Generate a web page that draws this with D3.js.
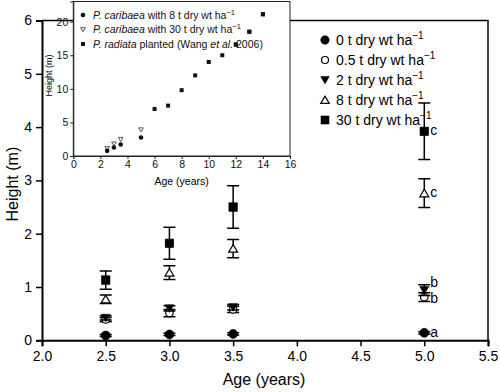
<!DOCTYPE html>
<html>
<head>
<meta charset="utf-8">
<script src="https://cdn.jsdelivr.net/npm/d3@7"></script>
<style>
  body { margin: 0; background: #fff; }
  svg { font-family: "Liberation Sans", Arial, Helvetica, sans-serif; }
</style>
</head>
<body>
<div id="chart"></div>
<script>
// Main chart data: height (m) by age, for each residue rate
var ages = [2.5, 3.0, 3.5, 5.0];
var h0  = [0.09, 0.11, 0.12, 0.14],  e0  = [0.02, 0.02, 0.02, 0.02];
var h05 = [0.39, 0.51, 0.58, 0.81],  e05 = [0.04, 0.07, 0.06, 0.08];
var h2  = [0.42, 0.60, 0.62, 0.94],  e2  = [0.04, 0.05, 0.05, 0.10];
var h8  = [0.77, 1.27, 1.72, 2.76],  e8  = [0.08, 0.13, 0.17, 0.27];
var h30 = [1.13, 1.82, 2.50, 3.92],  e30 = [0.17, 0.30, 0.40, 0.53];
var seriesNames = ["0", "0.5", "2", "8", "30"];
var letters = ["a", "b", "b", "c", "c"];   // significance letters at age 5
var xTicks = [2.0, 2.5, 3.0, 3.5, 4.0, 4.5, 5.0, 5.5];
var yTicks = [0, 1, 2, 3, 4, 5, 6];

// Inset data
var insetAges = [2.5, 3.0, 3.5, 5.0];
var inset8  = [0.77, 1.27, 1.72, 2.76];
var inset30 = [1.13, 1.82, 2.50, 3.92];
var radiataAges = [6, 7, 8, 9, 10, 11, 12, 13, 14];
var radiataH    = [7.0, 7.5, 9.8, 12.0, 14.0, 15.0, 16.6, 18.5, 21.1];
var insetXTicks = [0, 2, 4, 6, 8, 10, 12, 14, 16];
var insetYTicks = [0, 5, 10, 15, 20];

var W = 500, H = 392;
var svg = d3.select("#chart").append("svg")
    .attr("width", W)
    .attr("height", H);

// ---- main plot ----
var x = d3.scaleLinear().domain([2, 5.5]).range([42, 488]);
var y = d3.scaleLinear().domain([0, 6]).range([340.3, 20.5]);

// frame (top + right)
svg.append("path")
  .attr("d", "M" + x(2) + "," + y(6) + "H" + x(5.5) + "V" + y(0))
  .attr("fill", "none").attr("stroke", "#000").attr("stroke-width", 1.5);

var xAxis = svg.append("g")
  .attr("transform", "translate(0," + y(0) + ")")
  .call(d3.axisBottom(x).tickValues(xTicks).tickFormat(d3.format(".1f")).tickSize(6).tickPadding(5));
var yAxis = svg.append("g")
  .attr("transform", "translate(" + x(2) + ",0)")
  .call(d3.axisLeft(y).tickValues(yTicks).tickFormat(d3.format("d")).tickSize(6).tickPadding(4));

[xAxis, yAxis].forEach(function(a) {
  a.select(".domain").attr("stroke-width", 2);
  a.selectAll(".tick line").attr("stroke-width", 1.5);
  a.selectAll("text").attr("font-size", 14).attr("fill", "#000")
    .attr("font-family", "Liberation Sans, Arial, sans-serif");
});

svg.append("text")
  .attr("text-anchor", "middle")
  .attr("transform", "translate(" + (x(2) - 24) + "," + y(2.93) + ")rotate(-90)")
  .attr("font-size", 16)
  .text("Height (m)");

svg.append("text")
  .attr("text-anchor", "middle")
  .attr("x", 264).attr("y", 385)
  .attr("font-size", 16)
  .text("Age (years)");

// symbol helpers
function marker(g, type, size, cx, cy) {
  var m;
  if (type == "circle" || type == "ocircle") {
    m = g.append("circle").attr("cx", cx).attr("cy", cy).attr("r", size / 2);
  } else if (type == "square") {
    m = g.append("rect").attr("x", cx - size / 2).attr("y", cy - size / 2)
      .attr("width", size).attr("height", size);
  } else {
    var s = size / 2, d = (type == "tridown") ? 1 : -1;
    m = g.append("path").attr("d",
      "M" + (cx - s) + "," + (cy - d * s * 0.8) +
      "L" + (cx + s) + "," + (cy - d * s * 0.8) +
      "L" + cx + "," + (cy + d * s * 0.9) + "Z");
  }
  var open = (type == "ocircle" || type == "triup");
  m.attr("fill", open ? "#fff" : "#000").attr("stroke", "#000").attr("stroke-width", open ? 1.2 : 0.6);
  return m;
}

var series = [
  {vals: h0,  err: e0,  type: "circle",  size: 9, dy: 4},
  {vals: h05, err: e05, type: "ocircle", size: 7.5, dy: 6},
  {vals: h2,  err: e2,  type: "tridown", size: 9, dy: -3},
  {vals: h8,  err: e8,  type: "triup",   size: 9, dy: 4},
  {vals: h30, err: e30, type: "square",  size: 8.5, dy: 4}
];

var marks = svg.append("g");
series.forEach(function(s, si) {
  ages.forEach(function(a, i) {
    var cx = x(a), v = s.vals[i], e = s.err[i];
    var g = marks.append("g");
    g.append("path")
      .attr("d", "M" + cx + "," + y(v - e) + "V" + y(v + e) +
        "M" + (cx - 6) + "," + y(v + e) + "h12" +
        "M" + (cx - 6) + "," + y(v - e) + "h12")
      .attr("stroke", "#000").attr("stroke-width", 1.5).attr("fill", "none");
    marker(g, s.type, s.size, cx, y(v));
  });
  // letter at age 5
  svg.append("text")
    .attr("x", x(5) + 6)
    .attr("y", y(s.vals[3]) + s.dy)
    .attr("font-size", 14)
    .text(letters[si]);
});

// main legend
var leg = svg.append("g");
seriesNames.forEach(function(n, i) {
  var ly = 40 + i * 20;
  marker(leg, series[i].type, series[i].size - 0.5, 325, ly);
  var t = leg.append("text").attr("x", 336).attr("y", ly + 5).attr("font-size", 14);
  t.append("tspan").text(n + " t dry wt ha");
  t.append("tspan").attr("dy", -6).attr("font-size", 10).text("\u22121");
});

// ---- inset ----
var xi = d3.scaleLinear().domain([0, 16]).range([73.3, 290]);
var yi = d3.scaleLinear().domain([0, 23]).range([156, 1.5]);
var inset = svg.append("g");

inset.append("rect")
  .attr("x", xi(0)).attr("y", yi(23))
  .attr("width", xi(16) - xi(0)).attr("height", yi(0) - yi(23))
  .attr("fill", "#fff").attr("stroke", "#222").attr("stroke-width", 1);

var xiAxis = inset.append("g")
  .attr("transform", "translate(0," + yi(0) + ")")
  .call(d3.axisBottom(xi).tickValues(insetXTicks).tickSize(3).tickPadding(2));
var yiAxis = inset.append("g")
  .attr("transform", "translate(" + xi(0) + ",0)")
  .call(d3.axisLeft(yi).tickValues(insetYTicks).tickSize(3).tickPadding(2));
[xiAxis, yiAxis].forEach(function(a) {
  a.selectAll("text").attr("font-size", 10.5).attr("fill", "#111")
    .attr("font-family", "Liberation Sans, Arial, sans-serif");
  a.select(".domain").attr("stroke", "#222");
  a.selectAll(".tick line").attr("stroke", "#222");
});

inset.append("text")
  .attr("text-anchor", "middle")
  .attr("transform", "translate(" + (xi(0) - 21) + "," + yi(12) + ")rotate(-90)")
  .attr("font-size", 9)
  .text("Height (m)");
inset.append("text")
  .attr("text-anchor", "middle")
  .attr("x", xi(8)).attr("y", 185)
  .attr("font-size", 10.5)
  .text("Age (years)");

function smallMark(g, type, cx, cy) {
  if (type == "dot") {
    g.append("circle").attr("cx", cx).attr("cy", cy).attr("r", 2.3).attr("fill", "#111");
  } else if (type == "sq") {
    g.append("rect").attr("x", cx - 2).attr("y", cy - 2).attr("width", 4).attr("height", 4).attr("fill", "#111");
  } else {
    g.append("path")
      .attr("d", "M" + (cx - 2.3) + "," + (cy - 1.8) + "L" + (cx + 2.3) + "," + (cy - 1.8) + "L" + cx + "," + (cy + 2.3) + "Z")
      .attr("fill", "#fff").attr("stroke", "#555").attr("stroke-width", 1);
  }
}

insetAges.forEach(function(a, i) {
  smallMark(inset, "tri", xi(a), yi(inset30[i]));
  smallMark(inset, "dot", xi(a), yi(inset8[i]));
});
radiataAges.forEach(function(a, i) {
  smallMark(inset, "sq", xi(a), yi(radiataH[i]));
});

// inset legend
var ileg = inset.append("g").attr("font-size", 10.5).attr("fill", "#111");
var iRows = [
  {type: "dot", parts: [["P. caribaea", true], [" with 8 t dry wt ha", false]], sup: true},
  {type: "tri", parts: [["P. caribaea", true], [" with 30 t dry wt ha", false]], sup: true},
  {type: "sq",  parts: [["P. radiata", true], [" planted (Wang ", false], ["et al.", true], [" 2006)", false]], sup: false}
];
iRows.forEach(function(r, i) {
  var ly = 15 + i * 14.5;
  smallMark(ileg, r.type, 83, ly);
  var t = ileg.append("text").attr("x", 93).attr("y", ly + 3.5);
  r.parts.forEach(function(p) {
    t.append("tspan").attr("font-style", p[1] ? "italic" : "normal").text(p[0]);
  });
  if (r.sup) t.append("tspan").attr("dy", -4).attr("font-size", 7.5).text("\u22121");
});
// redraw radiata points that sit over the legend text
radiataAges.forEach(function(a, i) {
  if (radiataH[i] > 16) smallMark(inset, "sq", xi(a), yi(radiataH[i]));
});
</script>
</body>
</html>
